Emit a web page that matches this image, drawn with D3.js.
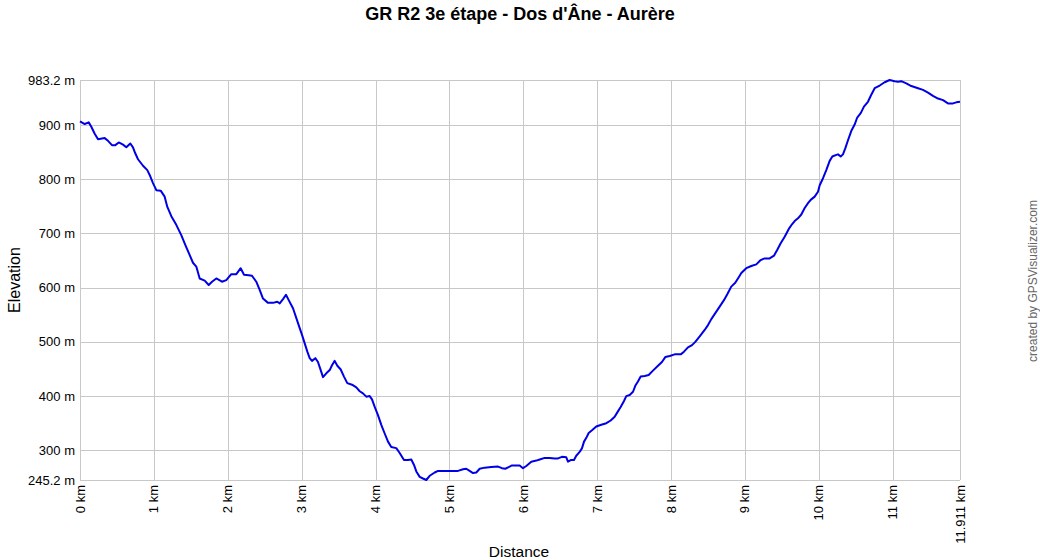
<!DOCTYPE html>
<html>
<head>
<meta charset="utf-8">
<script src="https://d3js.org/d3.v7.min.js"></script>
<style>
  body { margin: 0; background: #fff; }
  text { font-family: Arial, "Liberation Sans", sans-serif; }
</style>
</head>
<body>
<svg width="1040" height="560"></svg>
<script>

// profile: distance (km) and elevation (m)
var distKm = [0,0.064,0.118,0.153,0.199,0.244,0.334,0.379,0.433,0.478,0.524,0.582,0.627,0.681,0.717,0.748,0.785,0.853,0.911,0.943,
  0.988,1.033,1.092,1.146,1.182,1.236,1.303,1.371,1.425,1.485,1.529,1.574,1.620,1.688,1.742,1.787,1.845,1.922,1.980,2.048,
  2.116,2.175,2.220,2.283,2.328,2.386,2.432,2.477,2.545,2.612,2.670,2.703,2.748,2.788,2.825,2.883,2.960,3.005,3.049,3.077,
  3.109,3.140,3.185,3.221,3.258,3.289,3.334,3.380,3.411,3.447,3.483,3.529,3.573,3.618,3.682,3.740,3.786,3.830,3.875,3.921,
  3.952,3.989,4.033,4.078,4.124,4.169,4.213,4.281,4.327,4.385,4.439,4.484,4.521,4.552,4.598,4.642,4.687,4.733,4.801,4.846,
  4.936,5.026,5.116,5.184,5.228,5.274,5.319,5.364,5.410,5.478,5.567,5.658,5.712,5.756,5.802,5.847,5.951,5.996,6.041,6.108,
  6.176,6.222,6.290,6.357,6.425,6.470,6.524,6.582,6.605,6.642,6.686,6.717,6.763,6.795,6.822,6.853,6.885,6.930,6.988,7.056,
  7.124,7.183,7.237,7.273,7.318,7.363,7.394,7.440,7.485,7.516,7.552,7.589,7.643,7.697,7.755,7.823,7.877,7.922,7.982,8.049,
  8.131,8.175,8.229,8.284,8.328,8.388,8.455,8.500,8.545,8.599,8.658,8.716,8.761,8.815,8.869,8.929,8.951,9.018,9.086,9.154,
  9.213,9.267,9.335,9.393,9.438,9.484,9.538,9.592,9.637,9.673,9.718,9.763,9.809,9.854,9.890,9.944,9.989,10.012,10.057,10.101,
  10.147,10.183,10.237,10.260,10.296,10.327,10.358,10.395,10.439,10.485,10.520,10.567,10.611,10.665,10.710,10.756,10.824,10.891,10.959,11.027,
  11.072,11.116,11.184,11.252,11.343,11.410,11.478,11.545,11.613,11.681,11.748,11.816,11.861,11.911];

var elevM = [907,902,905,897,884,874,876,871,863,863,868,864,859,866,859,848,837,825,817,808,
  793,780,779,768,749,732,716,697,679,660,646,639,617,613,605,611,617,611,614,625,
  625,636,624,623,622,611,596,580,572,572,574,571,579,587,577,562,531,513,494,482,
  470,465,470,463,448,435,442,448,457,465,456,449,436,424,421,416,409,405,399,400,
  394,380,365,347,331,316,306,304,295,282,282,283,273,261,251,248,245.2,253,259,262,
  262,262,262,265,266,262,258,259,266,268,269,270,267,266,269,272,272,267,271,279,
  281,283,286,286,285,285,288,287,279,282,282,290,297,304,316,323,332,337,344,347,
  350,355,362,370,380,391,400,402,408,419,427,436,437,439,447,456,463,472,474,477,
  477,482,490,494,500,510,522,531,542,553,565,577,588,602,609,622,627,636,640,643,
  651,654,654,659,670,682,694,708,717,723,728,735,747,756,762,768,777,789,802,817,
  834,842,845,846,842,846,857,872,889,901,914,922,934,943,956,968,973,979,983.2,981,
  980,981,977,972,968,965,960,954,949,946,940,940,942,943];

var yTicks = [245.2, 300, 400, 500, 600, 700, 800, 900, 983.2];
var xTicks = [0, 1, 2, 3, 4, 5, 6, 7, 8, 9, 10, 11, 11.911];

var title = "GR R2 3e étape - Dos d'Âne - Aurère";

var svg = d3.select("svg"),
    plotLeft = 80, plotRight = 960, plotTop = 80, plotBottom = 480;

var x = d3.scaleLinear().domain([0, 11.911]).range([plotLeft, plotRight]);
var y = d3.scaleLinear().domain([245.2, 983.2]).range([plotBottom, plotTop]);

var data = distKm.map(function(d, i) { return [d, elevM[i]]; });

// grid
svg.append("g").selectAll("line")
    .data(yTicks)
  .enter().append("line")
    .attr("x1", plotLeft).attr("x2", plotRight)
    .attr("y1", function(d) { return Math.round(y(d)) + 0.5; })
    .attr("y2", function(d) { return Math.round(y(d)) + 0.5; })
    .attr("stroke", "#c8c8c8");

svg.append("g").selectAll("line")
    .data(xTicks)
  .enter().append("line")
    .attr("y1", plotTop).attr("y2", plotBottom)
    .attr("x1", function(d) { return Math.round(x(d)) + 0.5; })
    .attr("x2", function(d) { return Math.round(x(d)) + 0.5; })
    .attr("stroke", "#c8c8c8");

// tick labels
svg.append("g").selectAll("text")
    .data(yTicks)
  .enter().append("text")
    .attr("x", plotLeft - 5)
    .attr("y", function(d) { return y(d); })
    .attr("dy", "0.35em")
    .attr("text-anchor", "end")
    .style("font-size", "13px")
    .text(function(d) { return d + " m"; });

svg.append("g").selectAll("text")
    .data(xTicks)
  .enter().append("text")
    .attr("transform", function(d) { return "translate(" + x(d) + "," + (plotBottom + 5) + ") rotate(-90)"; })
    .attr("dy", "0.35em")
    .attr("text-anchor", "end")
    .style("font-size", "13px")
    .text(function(d) { return d + " km"; });

// profile
var line = d3.line()
    .x(function(d) { return x(d[0]); })
    .y(function(d) { return y(d[1]); });

svg.append("path")
    .datum(data)
    .attr("d", line)
    .attr("fill", "none")
    .attr("stroke", "#0000e6")
    .attr("stroke-width", 2)
    .attr("stroke-linejoin", "round");

// titles
svg.append("text")
    .attr("x", 520).attr("y", 20)
    .attr("text-anchor", "middle")
    .style("font-size", "18px")
    .style("font-weight", "bold")
    .text(title);

svg.append("text")
    .attr("x", 519).attr("y", 557)
    .attr("text-anchor", "middle")
    .style("font-size", "15.5px")
    .text("Distance");

svg.append("text")
    .attr("transform", "translate(20,280) rotate(-90)")
    .attr("text-anchor", "middle")
    .style("font-size", "16px")
    .text("Elevation");

svg.append("text")
    .attr("transform", "translate(1037,281) rotate(-90)")
    .attr("text-anchor", "middle")
    .style("font-size", "12px")
    .style("fill", "#666")
    .text("created by GPSVisualizer.com");

</script>
</body>
</html>
